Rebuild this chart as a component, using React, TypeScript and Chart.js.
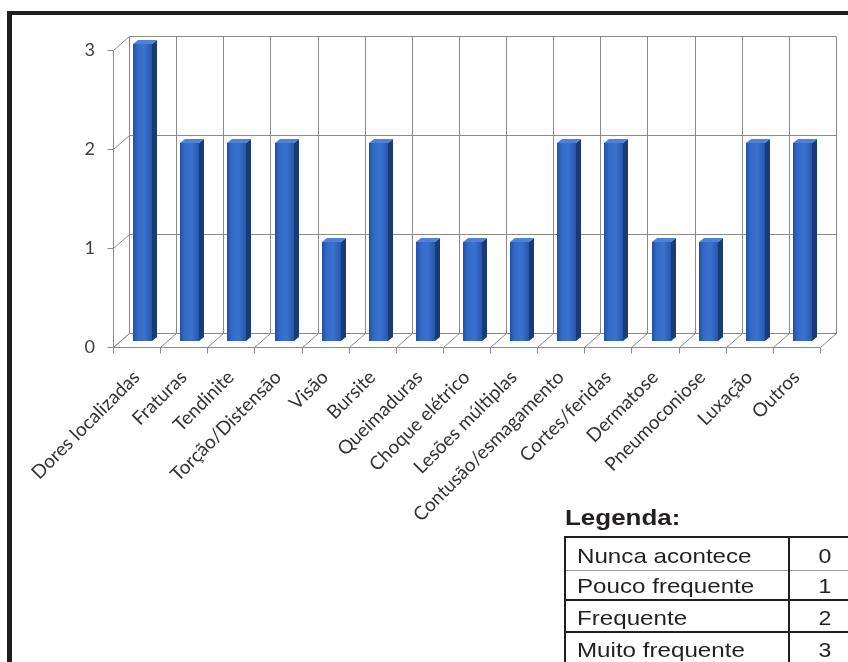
import React, { useEffect, useRef } from "react";
import { Chart, registerables } from "chart.js";

Chart.register(...registerables);

const categories = [
  "Dores localizadas",
  "Fraturas",
  "Tendinite",
  "Torção/Distensão",
  "Visão",
  "Bursite",
  "Queimaduras",
  "Choque elétrico",
  "Lesões múltiplas",
  "Contusão/esmagamento",
  "Cortes/feridas",
  "Dermatose",
  "Pneumoconiose",
  "Luxação",
  "Outros",
];
const frequency = [3, 2, 2, 2, 1, 2, 1, 1, 1, 2, 2, 1, 1, 2, 2];
const yTickValues = [0, 1, 2, 3];
const legendTitle = "Legenda:";
const legendLabels = ["Nunca acontece", "Pouco frequente", "Frequente", "Muito frequente"];
const legendValues = ["0", "1", "2", "3"];

const DX = 16;
const DY = -14;

const wall3d = {
  id: "wall3d",
  beforeDatasetsDraw(chart: any) {
    const { ctx, chartArea, scales } = chart;
    const { left, right } = chartArea;
    const x = scales.x;
    const y = scales.y;
    const n = categories.length;
    const cw = x.getPixelForValue(1) - x.getPixelForValue(0);
    const y0 = y.getPixelForValue(0);
    const yMax = y.getPixelForValue(yTickValues[yTickValues.length - 1]);
    const r = (v: number) => Math.round(v) + 0.5;
    ctx.save();
    ctx.lineWidth = 1;
    ctx.strokeStyle = "#8a8a8a";
    const line = (x1: number, y1: number, x2: number, y2: number) => {
      ctx.beginPath();
      ctx.moveTo(r(x1), r(y1));
      ctx.lineTo(r(x2), r(y2));
      ctx.stroke();
    };
    for (const v of yTickValues) {
      const py = y.getPixelForValue(v);
      line(left + DX, py + DY, right + DX, py + DY);
      line(left, py, left + DX, py + DY);
      line(left - 6, py, left, py);
    }
    line(left, y0, left, yMax);
    line(left + DX, y0 + DY, left + DX, yMax + DY);
    for (let i = 0; i <= n; i++) {
      const bx = i < n ? x.getPixelForValue(i) - cw / 2 : x.getPixelForValue(n - 1) + cw / 2;
      line(bx + DX, y0 + DY, bx + DX, yMax + DY);
      line(bx, y0, bx + DX, y0 + DY);
      line(bx, y0, bx, y0 + 6);
    }
    line(left, y0, right, y0);
    ctx.restore();
  },
  afterDatasetsDraw(chart: any) {
    const { ctx } = chart;
    const meta = chart.getDatasetMeta(0);
    ctx.save();
    meta.data.forEach((el: any) => {
      const p = el.getProps(["x", "y", "base", "width"], true);
      const w = p.width;
      const fx = Math.round(p.x + 6 - w / 2);
      const fr = Math.round(fx + w);
      const top = Math.round(p.y - 6);
      const base = Math.round(p.base - 6);
      const sd = 5;
      const sh = 4;
      const g = ctx.createLinearGradient(fx, 0, fr, 0);
      g.addColorStop(0, "#23509f");
      g.addColorStop(0.25, "#336ac6");
      g.addColorStop(0.6, "#3a72cf");
      g.addColorStop(1, "#2657ad");
      ctx.fillStyle = g;
      ctx.fillRect(fx, top, fr - fx, base - top);
      ctx.fillStyle = "#1a3a7a";
      ctx.beginPath();
      ctx.moveTo(fr, top);
      ctx.lineTo(fr + sd, top - sh);
      ctx.lineTo(fr + sd, base - sh);
      ctx.lineTo(fr, base);
      ctx.closePath();
      ctx.fill();
      ctx.fillStyle = "#4f82d6";
      ctx.beginPath();
      ctx.moveTo(fx, top);
      ctx.lineTo(fx + sd, top - sh);
      ctx.lineTo(fr + sd, top - sh);
      ctx.lineTo(fr, top);
      ctx.closePath();
      ctx.fill();
    });
    ctx.restore();
  },
};

function BarChart() {
  const ref = useRef<HTMLCanvasElement | null>(null);
  useEffect(() => {
    if (!ref.current) return;
    const chart = new Chart(ref.current, {
      type: "bar",
      data: {
        labels: categories,
        datasets: [
          {
            data: frequency,
            backgroundColor: "rgba(0,0,0,0)",
            borderWidth: 0,
            barPercentage: 0.4,
            categoryPercentage: 1,
          },
        ],
      },
      options: {
        responsive: false,
        animation: false,
        layout: { padding: { top: 50, right: 28, left: 0, bottom: 0 } },
        plugins: { legend: { display: false }, tooltip: { enabled: false } },
        scales: {
          x: {
            grid: { display: false, drawTicks: false },
            border: { display: false },
            ticks: {
              autoSkip: false,
              maxRotation: 45,
              minRotation: 45,
              padding: 19,
              color: "#333333",
              font: { family: "Lato", size: 19 },
            },
            afterFit: (s: any) => {
              s.height = 315;
            },
          },
          y: {
            min: 0,
            max: 3,
            grid: { display: false, drawTicks: false },
            border: { display: false },
            ticks: {
              stepSize: 1,
              padding: 18,
              color: "#404040",
              font: { family: "Lato", size: 18 },
            },
            afterFit: (s: any) => {
              s.width = 113;
            },
          },
        },
      },
      plugins: [wall3d],
    });
    return () => chart.destroy();
  }, []);
  return <canvas ref={ref} width={848} height={662} style={{ position: "absolute", left: 0, top: 0 }} />;
}

export default function App() {
  const rowTops = [537, 570, 600, 632];
  const textTops = [545, 575, 607, 639];
  const textStyle: React.CSSProperties = {
    position: "absolute",
    fontFamily: "'Liberation Sans', Arial, sans-serif",
    fontSize: 21,
    lineHeight: "21px",
    color: "#231f20",
    whiteSpace: "nowrap",
    transformOrigin: "left top",
  };
  return (
    <div
      style={{
        position: "fixed",
        left: 0,
        top: 0,
        width: 848,
        height: 662,
        overflow: "hidden",
        background: "#ffffff",
      }}
    >
      <BarChart />
      <div style={{ position: "absolute", left: 7, top: 11, width: 841, height: 4, background: "#1f1f1f" }} />
      <div style={{ position: "absolute", left: 7, top: 11, width: 5, height: 651, background: "#1f1f1f" }} />
      <div
        style={{
          ...textStyle,
          left: 565,
          top: 507,
          fontSize: 22,
          lineHeight: "22px",
          fontWeight: "bold",
          transform: "scaleX(1.18)",
        }}
      >
        {legendTitle}
      </div>
      <div style={{ position: "absolute", left: 564, top: 536, width: 300, height: 2, background: "#231f20" }} />
      {rowTops.slice(1).map((t, i) => (
        <div
          key={"h" + i}
          style={{
            position: "absolute",
            left: 564,
            top: i === 0 ? t : t - 1,
            width: 300,
            height: i === 0 ? 1 : 2,
            background: i === 0 ? "#9a9a9a" : "#231f20",
          }}
        />
      ))}
      <div style={{ position: "absolute", left: 564, top: 536, width: 2, height: 140, background: "#231f20" }} />
      <div style={{ position: "absolute", left: 788, top: 536, width: 2, height: 140, background: "#231f20" }} />
      {legendLabels.map((lab, i) => (
        <div key={"l" + i} style={{ ...textStyle, left: 577, top: textTops[i], transform: "scaleX(1.15)" }}>
          {lab}
        </div>
      ))}
      {legendValues.map((v, i) => (
        <div
          key={"v" + i}
          style={{ ...textStyle, left: 790, width: 70, textAlign: "center", top: textTops[i], transform: "scaleX(1.1)", transformOrigin: "center top" }}
        >
          {v}
        </div>
      ))}
    </div>
  );
}
